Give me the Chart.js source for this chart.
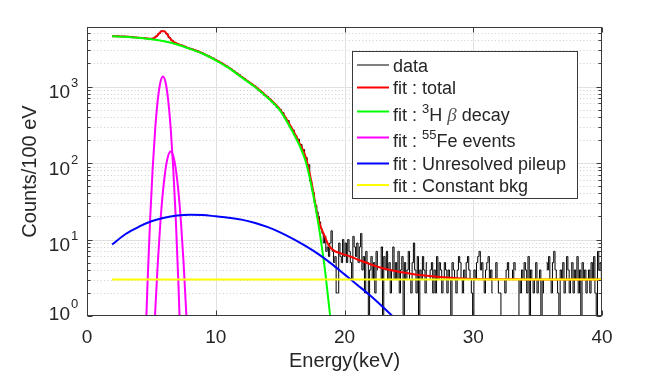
<!DOCTYPE html>
<html lang="en">
<head>
    <meta charset="UTF-8">
    <title>Spectrum fit</title>
    <style>
        body {
            margin: 0;
            background: #fff;
        }
        #spectrum {
            display: block;
        }
    </style>
</head>
<body>
    <canvas id="spectrum" width="664" height="373"></canvas>

    <script src="https://cdn.jsdelivr.net/npm/chart.js"></script>

    <script>
        // ---- data ----
        // measured histogram, 200 eV bins from 2.0 to 17.2 keV (hidden under the fits)
        const lowStart = 2.0, lowStep = 0.2;
        const lowCounts = [
            4560, 4530, 4575, 4510, 4540, 4470, 4500, 4445, 4420, 4390,
            4360, 4300, 4330, 4250, 4230, 4220, 4300, 4560, 4930, 5310,
            5250, 4890, 4350, 4020, 3770, 3650, 3510, 3460, 3350, 3240,
            3150, 3080, 2990, 2900, 2780, 2720, 2600, 2540, 2420, 2350,
            2230, 2140, 2060, 1950, 1870, 1780, 1690, 1600, 1510, 1440,
            1345, 1270, 1200, 1130, 1060, 1020, 950, 880, 830, 770,
            740, 680, 630, 580, 530, 500, 455, 390, 360, 300,
            270, 228, 205, 175, 150, 118, 95
        ];
        // tail of the histogram, 100 eV bins from 17.4 to 40.0 keV
        const tailStart = 17.4, tailStep = 0.1;
        const tailCounts = [
            58, 44, 41, 30, 28, 23,
            20, 17, 14, 12, 9, 11, 7, 8, 6, 9,
            13, 7, 5, 6, 2, 2, 9, 6, 5, 10,
            6, 9, 5, 10, 7, 5, 3, 11, 8, 6,
            9, 5, 8, 12, 4, 6, 2, 7, 5, 1,
            4, 6, 3, 5, 2, 7, 4, 0, 3, 8,
            1, 6, 4, 7, 3, 5, 2, 4, 8, 3,
            5, 3, 7, 2, 4, 6, 1, 5, 3, 4,
            7, 3, 2, 5, 9, 4, 2, 6, 1, 4,
            3, 6, 4, 2, 5, 0, 3, 4, 5, 2,
            4, 2, 6, 3, 5, 4, 2, 3, 5, 4,
            2, 4, 3, 1, 5, 4, 3, 2, 4, 6,
            5, 3, 2, 4, 3, 5, 6, 4, 3, 2,
            1, 4, 3, 5, 6, 7, 4, 5, 3, 2,
            4, 5, 6, 3, 4, 2, 0, 3, 5, 3,
            2, 2, 1, 0, 3, 2, 4, 5, 3, 0,
            4, 3, 5, 4, 0, 1, 3, 2, 4, 3,
            5, 4, 2, 6, 1, 4, 3, 2, 3, 5,
            2, 3, 4, 1, 3, 2, 0, 5, 4, 6,
            3, 2, 5, 7, 4, 3, 2, 1, 4, 3,
            5, 2, 3, 6, 4, 2, 3, 5, 2, 4,
            3, 6, 2, 4, 1, 5, 3, 4, 2, 3,
            4, 2, 5, 3, 6, 2, 1, 7, 4, 5,
            3
        ];

        // fit : total
        const totalE = [1.95, 3, 4, 4.6, 5.0, 5.2, 5.4, 5.6, 5.8, 6.0, 6.2, 6.4, 6.6, 6.8, 7.0, 7.2, 7.4, 7.8,
                        9, 10, 11, 12, 13, 14, 15, 16, 16.5, 17, 17.35, 17.6, 17.86, 18.1, 18.38, 18.77, 19.15,
                        19.8, 20.45, 21.1, 21.75, 22.4, 23.04, 24.3, 25.5, 27.4, 29, 31, 34, 40];
        const totalV = [4555, 4495, 4345, 4270, 4210, 4285, 4530, 4945, 5290, 5274, 4870, 4374, 4008, 3784, 3641, 3515, 3412, 3225,
                        2705, 2223, 1772, 1341, 1020, 738, 500, 268, 182, 118, 66, 40, 22, 15.5, 11.9, 8.4, 7.2,
                        6.5, 6.0, 5.4, 4.93, 4.5, 4.17, 3.75, 3.5, 3.24, 3.1, 3.03, 3.01, 3.0];

        // fit : 3H beta decay
        const tritiumE = [1.95, 3, 4, 5, 6, 7, 8, 9, 10, 11, 12, 13, 14, 15, 16, 16.5, 17, 17.5, 18, 18.3, 18.5, 18.7, 18.9, 19.1];
        const tritiumV = [4540, 4480, 4330, 4150, 3900, 3550, 3110, 2680, 2200, 1750, 1320, 1000, 720, 485, 250, 170, 103, 44, 15, 6.8, 3.8, 1.9, 0.95, 0.45];

        // fit : 55Fe events (K-alpha and K-beta lines)
        const feAlphaE = [4.3, 4.5, 4.7, 4.9, 5.1, 5.3, 5.5, 5.7, 5.9, 6.1, 6.3, 6.5, 6.7, 6.9, 7.1, 7.3, 7.5];
        const feAlphaV = [0.021, 0.28, 2.66, 17.9, 84.8, 285, 675, 1135, 1350, 1135, 675, 285, 84.8, 17.9, 2.66, 0.28, 0.021];
        const feBetaE = [4.9, 5.1, 5.3, 5.5, 5.7, 5.9, 6.1, 6.3, 6.5, 6.7, 6.9, 7.1, 7.3, 7.5, 7.7, 7.9, 8.1];
        const feBetaV = [0.028, 0.205, 1.16, 5.03, 16.7, 42.5, 82.8, 123.4, 141, 123.4, 82.8, 42.5, 16.7, 5.03, 1.16, 0.205, 0.028];

        // fit : unresolved pileup
        const pileupE = [1.95, 3, 4, 5, 6, 7, 8, 9, 10, 11, 12, 13, 14, 15, 16, 17, 18, 19, 20, 21, 22, 23, 24, 25];
        const pileupV = [8.6, 11.8, 14.6, 17.3, 19.3, 20.6, 21.1, 20.9, 20.1, 19.3, 18.2, 16.6, 14.6, 12.4, 10.2, 8.2, 6.4, 4.8, 3.5, 2.55, 1.85, 1.3, 0.9, 0.62];

        // fit : constant background
        const bkgE = [1.95, 40];
        const bkgV = [3, 3];

        // axes
        const xTicks = [0, 10, 20, 30, 40];
        const yExponents = [0, 1, 2, 3];
        const yMax = 6000;

        // ---- helpers ----
        function toPoints(xs, ys) {
            return xs.map((x, i) => ({ x: x, y: ys[i] }));
        }

        const histPoints = [];
        lowCounts.forEach((c, i) => histPoints.push({ x: lowStart + i * lowStep, y: c }));
        tailCounts.forEach((c, i) => histPoints.push({ x: tailStart + i * tailStep, y: c }));

        const SANS = '"Liberation Sans", Arial, sans-serif';
        const INK = '#262626';

        // legend rows: text pieces, superscripts and the italic beta
        const legendRows = [
            [{ t: 'data' }],
            [{ t: 'fit : total' }],
            [{ t: 'fit : ' }, { t: '3', sup: true }, { t: 'H ' }, { t: 'β', it: true }, { t: ' decay' }],
            [{ t: 'fit : ' }, { t: '55', sup: true }, { t: 'Fe events' }],
            [{ t: 'fit : Unresolved pileup' }],
            [{ t: 'fit : Constant bkg' }]
        ];
        const legendRowY = [65, 87.5, 111.5, 137.5, 163.5, 185];

        // grid, box, ticks, y labels and the legend, drawn MATLAB style
        const matlabFrame = {
            id: 'matlabFrame',
            beforeDatasetsDraw(chart) {
                const { ctx, chartArea: a, scales: { x, y } } = chart;
                ctx.save();
                ctx.lineWidth = 1;

                // minor grid (dotted)
                ctx.strokeStyle = '#cdcdcd';
                ctx.setLineDash([1, 2.4]);
                yExponents.forEach(e => {
                    for (let m = 2; m <= 9; m++) {
                        const v = m * Math.pow(10, e);
                        if (v >= yMax) continue;
                        const py = Math.round(y.getPixelForValue(v)) + 0.5;
                        ctx.beginPath();
                        ctx.moveTo(a.left, py);
                        ctx.lineTo(a.right, py);
                        ctx.stroke();
                    }
                });

                // major grid
                ctx.setLineDash([]);
                ctx.strokeStyle = '#e1e1e1';
                yExponents.slice(1).forEach(e => {
                    const py = Math.round(y.getPixelForValue(Math.pow(10, e))) + 0.5;
                    ctx.beginPath();
                    ctx.moveTo(a.left, py);
                    ctx.lineTo(a.right, py);
                    ctx.stroke();
                });
                xTicks.slice(1, -1).forEach(v => {
                    const px = Math.round(x.getPixelForValue(v)) + 0.5;
                    ctx.beginPath();
                    ctx.moveTo(px, a.top);
                    ctx.lineTo(px, a.bottom);
                    ctx.stroke();
                });
                ctx.restore();
            },
            afterDatasetsDraw(chart) {
                const { ctx, chartArea: a, scales: { x, y } } = chart;
                ctx.save();
                ctx.lineWidth = 1;
                ctx.strokeStyle = '#3a3a3a';

                const L = Math.round(a.left) + 0.5, R = Math.round(a.right) - 0.5;
                const T = Math.round(a.top) + 0.5, B = Math.round(a.bottom) - 0.5;
                ctx.strokeRect(L, T, R - L, B - T);

                // tick marks, pointing inward
                ctx.beginPath();
                xTicks.forEach(v => {
                    const px = Math.round(x.getPixelForValue(v)) + 0.5;
                    ctx.moveTo(px, B); ctx.lineTo(px, B - 5);
                    ctx.moveTo(px, T); ctx.lineTo(px, T + 5);
                });
                yExponents.forEach(e => {
                    for (let m = 1; m <= 9; m++) {
                        const v = m * Math.pow(10, e);
                        if (v > yMax) continue;
                        const len = m === 1 ? 5 : 3;
                        const py = Math.round(y.getPixelForValue(v)) + 0.5;
                        ctx.moveTo(L, py); ctx.lineTo(L + len, py);
                        ctx.moveTo(R, py); ctx.lineTo(R - len, py);
                    }
                });
                ctx.stroke();

                // y tick labels 10^n
                ctx.fillStyle = INK;
                yExponents.forEach(e => {
                    const py = y.getPixelForValue(Math.pow(10, e));
                    const base = Math.min(py + 11.8, a.bottom + 3.6);
                    ctx.font = '19px ' + SANS;
                    ctx.textAlign = 'right';
                    ctx.textBaseline = 'alphabetic';
                    ctx.fillText('10', 70, base);
                    ctx.font = '13px ' + SANS;
                    ctx.textAlign = 'left';
                    ctx.fillText(String(e), 71, base - 11.3);
                });

                // legend
                const bx = 352.5, by = 51.5, bw = 225, bh = 147;
                ctx.fillStyle = '#fff';
                ctx.fillRect(bx, by, bw, bh);
                ctx.strokeStyle = '#3a3a3a';
                ctx.strokeRect(bx, by, bw, bh);

                const shown = chart.data.datasets.filter(d => !d.hideInLegend);
                shown.forEach((ds, i) => {
                    const ly = legendRowY[i];
                    ctx.strokeStyle = ds.borderColor;
                    ctx.lineWidth = ds.borderWidth;
                    ctx.beginPath();
                    ctx.moveTo(357, ly);
                    ctx.lineTo(389, ly);
                    ctx.stroke();

                    const hasSup = legendRows[i].some(p => p.sup);
                    const base = ly + (hasSup ? 9.3 : 6.7);
                    let tx = 393;
                    ctx.textAlign = 'left';
                    ctx.textBaseline = 'alphabetic';
                    legendRows[i].forEach(p => {
                        if (p.sup) {
                            ctx.font = '13px ' + SANS;
                            ctx.fillStyle = INK;
                            ctx.fillText(p.t, tx, base - 8);
                        } else if (p.it) {
                            ctx.font = 'italic 19px "Liberation Serif", "DejaVu Serif", serif';
                            ctx.fillStyle = '#555';
                            ctx.fillText(p.t, tx, base);
                        } else {
                            ctx.font = '18px ' + SANS;
                            ctx.fillStyle = INK;
                            ctx.fillText(p.t, tx, base);
                        }
                        tx += ctx.measureText(p.t).width;
                    });
                });
                ctx.restore();
            }
        };

        const lineBase = { pointRadius: 0, fill: false, cubicInterpolationMode: 'monotone' };

        new Chart(document.getElementById('spectrum'), {
            type: 'line',
            data: {
                datasets: [
                    { label: 'data', data: histPoints, borderColor: '#000000', borderWidth: 1,
                      stepped: 'middle', pointRadius: 0, fill: false, order: 6 },
                    { ...lineBase, label: 'fit : total', data: toPoints(totalE, totalV),
                      borderColor: '#ff0000', borderWidth: 2, order: 5 },
                    { ...lineBase, label: 'fit : ³H β decay', data: toPoints(tritiumE, tritiumV),
                      borderColor: '#00ff00', borderWidth: 2, order: 4 },
                    { ...lineBase, label: 'fit : ⁵⁵Fe events', data: toPoints(feAlphaE, feAlphaV),
                      borderColor: '#ff00ff', borderWidth: 2, order: 3 },
                    { ...lineBase, label: 'fit : ⁵⁵Fe events', data: toPoints(feBetaE, feBetaV),
                      borderColor: '#ff00ff', borderWidth: 2, order: 3, hideInLegend: true },
                    { ...lineBase, label: 'fit : Unresolved pileup', data: toPoints(pileupE, pileupV),
                      borderColor: '#0000ff', borderWidth: 2, order: 2 },
                    { ...lineBase, label: 'fit : Constant bkg', data: toPoints(bkgE, bkgV),
                      borderColor: '#ffff00', borderWidth: 2, order: 1 }
                ]
            },
            options: {
                responsive: false,
                animation: false,
                devicePixelRatio: 1,
                layout: { padding: { left: 0, right: 62, top: 27, bottom: 0 } },
                plugins: {
                    legend: { display: false },
                    tooltip: { enabled: false }
                },
                scales: {
                    x: {
                        type: 'linear',
                        min: 0,
                        max: 40,
                        grid: { display: false, drawTicks: false },
                        border: { display: false },
                        ticks: {
                            stepSize: 10,
                            maxRotation: 0,
                            autoSkip: false,
                            padding: 10,
                            color: INK,
                            font: { family: SANS, size: 19 }
                        },
                        title: {
                            display: true,
                            text: 'Energy(keV)',
                            color: INK,
                            font: { family: SANS, size: 20 },
                            padding: { top: 0, bottom: 0 }
                        },
                        afterFit: s => { s.height = 57; }
                    },
                    y: {
                        type: 'logarithmic',
                        min: 1,
                        max: yMax,
                        grid: { display: false, drawTicks: false },
                        border: { display: false },
                        ticks: { display: false },
                        title: {
                            display: true,
                            text: 'Counts/100 eV',
                            color: INK,
                            font: { family: SANS, size: 20 },
                            padding: { top: 18, bottom: 0 }
                        },
                        afterFit: s => { s.width = 87; }
                    }
                }
            },
            plugins: [matlabFrame]
        });
    </script>
</body>
</html>
